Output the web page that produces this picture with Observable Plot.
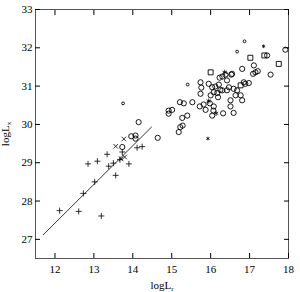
<!DOCTYPE html>
<html><head><meta charset="utf-8">
<script src="https://cdn.jsdelivr.net/npm/d3@7"></script>
<script src="https://cdn.jsdelivr.net/npm/@observablehq/plot@0.6"></script>
<style>body{margin:0;background:#fff}</style>
</head><body><div id="chart"></div>
<script>
const xTicks = [12, 13, 14, 15, 16, 17, 18];
const yTicks = [27, 28, 29, 30, 31, 32, 33];
const fitLine = [[11.7, 27.12], [14.48, 29.93]];
const plusPts = [[12.12,27.75],[12.61,27.73],[13.19,27.61],[12.85,28.97],[13.09,29.04],[13.34,29.22],[13.38,28.91],[13.56,28.67],[13.90,28.97],[13.02,28.50],[12.73,28.20],[13.67,29.08],[13.73,29.28],[14.24,29.42],[14.11,29.39],[13.50,28.99]];
const timesPts = [[13.77,29.62],[13.56,29.43],[13.79,29.15],[13.70,29.10]];
const circlePts = [[14.64,29.65],[15.18,29.80],[15.22,29.93],[15.28,29.97],[15.27,30.17],[15.40,30.23],[14.92,30.36],[14.92,30.28],[15.01,30.38],[15.21,30.58],[15.31,30.55],[15.53,30.58],[15.72,30.47],[15.82,30.52],[15.87,30.38],[15.98,30.55],[16.08,30.47],[16.07,30.36],[16.04,30.23],[15.74,31.10],[15.76,30.96],[15.74,30.80],[15.95,31.06],[16.04,30.97],[16.12,30.99],[16.21,31.04],[16.08,30.84],[16.00,30.76],[16.17,30.82],[16.25,30.90],[16.19,30.71],[16.23,31.22],[16.30,31.25],[16.38,31.30],[16.42,31.15],[16.53,31.30],[16.32,30.29],[16.59,30.30],[16.51,30.47],[16.30,30.89],[16.42,30.89],[16.47,30.97],[16.59,30.93],[16.68,30.89],[16.64,30.76],[16.77,30.76],[16.81,30.63],[16.51,30.63],[16.85,31.10],[16.89,31.06],[16.98,31.08],[16.81,31.45],[17.11,31.54],[17.15,31.36],[17.09,31.32],[17.21,31.39],[17.54,31.30],[17.92,31.95],[17.45,31.80],[16.55,31.32],[13.73,29.41],[13.96,29.69],[14.07,29.71],[14.15,30.06],[14.07,29.63]];
const smallCirclePts = [[13.75,30.55],[15.41,31.04],[16.68,31.90],[16.87,32.17]];
const squarePts = [[16.0,31.36],[17.02,31.74],[17.38,31.80],[17.75,31.58],[16.77,31.02]];
const asteriskPts = [[16.36,31.36],[16.14,30.29],[15.95,30.61]];
const smallAsteriskPts = [[17.36,32.04],[15.93,29.63]];

const dots = (data, symbol, r, sw = 0.9) => Plot.dot(data, {x: d => d[0], y: d => d[1], symbol, r, fill: "none", stroke: "black", strokeWidth: sw});

const chart = Plot.plot({
  width: 300, height: 292,
  marginLeft: 35, marginRight: 12, marginTop: 9, marginBottom: 34,
  style: {fontFamily: "'Liberation Serif', serif", fontSize: "11px", color: "black", background: "white"},
  x: {domain: [11.5, 18], ticks: xTicks},
  y: {domain: [26.5, 33], ticks: yTicks},
  marks: [
    Plot.frame({stroke: "#555", strokeWidth: 1}),
    Plot.axisX({anchor: "bottom", ticks: xTicks, tickFormat: "d", tickSize: -5, tickPadding: 12, label: "logLr", labelAnchor: "center", labelOffset: 30}),
    Plot.axisX({anchor: "top", ticks: xTicks, tickSize: -5, tickFormat: () => "", label: null}),
    Plot.axisY({anchor: "left", ticks: yTicks, tickFormat: "d", tickSize: -5, tickPadding: 8, label: "logLx", labelAnchor: "center", labelOffset: 34}),
    Plot.axisY({anchor: "right", ticks: yTicks, tickSize: -5, tickFormat: () => "", label: null}),
    Plot.line(fitLine, {x: d => d[0], y: d => d[1], stroke: "black", strokeWidth: 0.8}),
    dots(plusPts, "plus", 2.1, 0.8),
    dots(timesPts, "times", 2.2, 0.8),
    dots(circlePts, "circle", 2.6),
    dots(smallCirclePts, "circle", 1.4),
    dots(squarePts, "square", 2.8),
    dots(asteriskPts, "asterisk", 2.4, 0.8),
    dots(smallAsteriskPts, "asterisk", 1.7, 0.8)
  ]
});
document.getElementById("chart").appendChild(chart);

// subscripts in axis labels
function sub(sel, base, s) {
  d3.select(chart).selectAll(sel).each(function() {
    const t = d3.select(this);
    t.text(null);
    t.append("tspan").text(base);
    t.append("tspan").attr("font-size", "7px").attr("dy", "0.3em").text(s);
  });
}
sub('g[aria-label="x-axis label"] text', "logL", "r");
sub('g[aria-label="y-axis label"] text', "logL", "x");
</script>
</body></html>
